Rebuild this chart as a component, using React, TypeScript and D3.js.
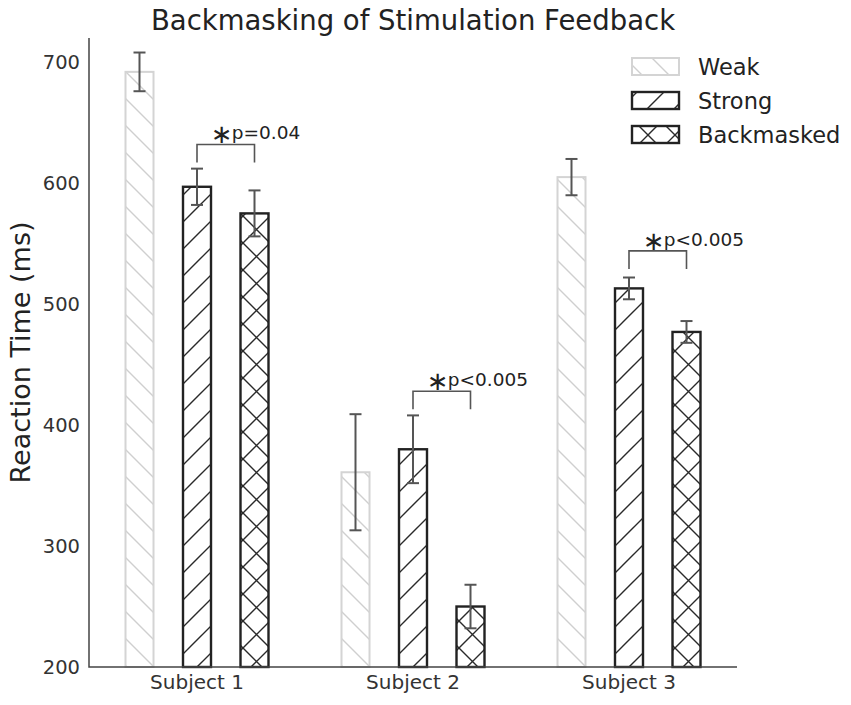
import React, { useEffect, useRef } from 'react';
import * as d3 from 'd3';

const subjects: string[] = ['Subject 1', 'Subject 2', 'Subject 3'];
const conditions: string[] = ['Weak', 'Strong', 'Backmasked'];
const weakMeans: number[] = [692, 361, 605];
const weakErr: number[] = [16, 48, 15];
const strongMeans: number[] = [597, 380, 513];
const strongErr: number[] = [15, 28, 9];
const backMeans: number[] = [575, 250, 477];
const backErr: number[] = [19, 18, 9];
const sigLabels: string[] = ['p=0.04', 'p<0.005', 'p<0.005'];
const sigTops: number[] = [632, 428, 544];
const yTicks: number[] = [200, 300, 400, 500, 600, 700];

const W = 851;
const H = 705;
const FONT = 'DejaVu Sans, sans-serif';

const App: React.FC = () => {
  const ref = useRef<SVGSVGElement | null>(null);

  useEffect(() => {
    if (!ref.current) return;
    const svg = d3.select(ref.current);
    svg.selectAll('*').remove();

    const left = 89;
    const right = 737;
    const top = 38;
    const bottom = 667;

    // hatch patterns
    const defs = svg.append('defs');
    const p = 27;
    const back = 'M0,0 L27,27 M-7,20 L7,34 M20,-7 L34,7';
    const fwd = 'M0,27 L27,0 M-7,7 L7,-7 M20,34 L34,20';
    const hatches = [
      { id: 'h-weak', d: back, stroke: '#cfcfcf' },
      { id: 'h-strong', d: fwd, stroke: '#2a2a2a' },
      { id: 'h-back', d: back + ' ' + fwd, stroke: '#2a2a2a' },
    ];
    hatches.forEach((h) => {
      const pat = defs
        .append('pattern')
        .attr('id', h.id)
        .attr('patternUnits', 'userSpaceOnUse')
        .attr('width', p)
        .attr('height', p);
      pat.append('rect').attr('width', p).attr('height', p).attr('fill', '#fff');
      pat
        .append('path')
        .attr('d', h.d)
        .attr('stroke', h.stroke)
        .attr('stroke-width', 1.4)
        .attr('fill', 'none');
    });
    const edges = ['#d4d4d4', '#222', '#222'];

    const x = d3.scaleBand<string>().domain(subjects).range([left, right]);
    const off = d3.scalePoint<string>().domain(conditions).range([-57.5, 57.5]);
    const y = d3.scaleLinear().domain([200, 720]).range([bottom, top]);
    const barW = 28;

    // title
    svg
      .append('text')
      .attr('x', (left + right) / 2)
      .attr('y', 30)
      .attr('text-anchor', 'middle')
      .attr('font-family', FONT)
      .attr('font-size', 27.5)
      .attr('fill', '#222')
      .text('Backmasking of Stimulation Feedback');

    // y label
    svg
      .append('text')
      .attr('transform', `translate(30,${(top + bottom) / 2}) rotate(-90)`)
      .attr('text-anchor', 'middle')
      .attr('font-family', FONT)
      .attr('font-size', 27)
      .attr('fill', '#222')
      .text('Reaction Time (ms)');

    // y tick labels
    svg
      .selectAll('.ytick')
      .data(yTicks)
      .enter()
      .append('text')
      .attr('x', 80)
      .attr('y', (d) => y(d))
      .attr('dy', '0.36em')
      .attr('text-anchor', 'end')
      .attr('font-family', FONT)
      .attr('font-size', 19.5)
      .attr('fill', '#333')
      .text((d) => d);

    // x tick labels
    svg
      .selectAll('.xtick')
      .data(subjects)
      .enter()
      .append('text')
      .attr('x', (d) => (x(d) || 0) + x.bandwidth() / 2)
      .attr('y', 689)
      .attr('text-anchor', 'middle')
      .attr('font-family', FONT)
      .attr('font-size', 20)
      .attr('fill', '#333')
      .text((d) => d);

    const series = [
      { means: weakMeans, errs: weakErr },
      { means: strongMeans, errs: strongErr },
      { means: backMeans, errs: backErr },
    ];

    const cx = (si: number, ci: number) =>
      (x(subjects[si]) || 0) + x.bandwidth() / 2 + (off(conditions[ci]) || 0);

    series.forEach((s, ci) => {
      const g = svg.append('g');
      g.selectAll('rect')
        .data(s.means)
        .enter()
        .append('rect')
        .attr('x', (_, i) => cx(i, ci) - barW / 2)
        .attr('y', (d) => y(d))
        .attr('width', barW)
        .attr('height', (d) => bottom - y(d))
        .attr('fill', `url(#${hatches[ci].id})`)
        .attr('stroke', edges[ci])
        .attr('stroke-width', ci === 0 ? 2 : 2.4);

      // error bars
      const eb = svg.append('g').attr('stroke', '#555').attr('stroke-width', 2).attr('fill', 'none');
      s.means.forEach((m, i) => {
        const c = cx(i, ci);
        const hi = y(m + s.errs[i]);
        const lo = y(m - s.errs[i]);
        eb.append('line').attr('x1', c).attr('x2', c).attr('y1', hi).attr('y2', lo);
        eb.append('line').attr('x1', c - 6).attr('x2', c + 6).attr('y1', hi).attr('y2', hi);
        eb.append('line').attr('x1', c - 6).attr('x2', c + 6).attr('y1', lo).attr('y2', lo);
      });
    });

    // significance brackets
    sigTops.forEach((v, i) => {
      const x1 = cx(i, 1);
      const x2 = cx(i, 2);
      const yt = y(v);
      const yb = y(v - 15);
      svg
        .append('path')
        .attr('d', `M${x1},${yb} L${x1},${yt} L${x2},${yt} L${x2},${yb}`)
        .attr('fill', 'none')
        .attr('stroke', '#555')
        .attr('stroke-width', 1.6);
      const mid = (x1 + x2) / 2;
      svg
        .append('text')
        .attr('x', mid - 4)
        .attr('y', yt - 1)
        .attr('text-anchor', 'middle')
        .attr('font-family', FONT)
        .attr('font-size', 26)
        .attr('fill', '#222')
        .text('\u2217');
      svg
        .append('text')
        .attr('x', mid + 6)
        .attr('y', yt - 5)
        .attr('font-family', FONT)
        .attr('font-size', 18.5)
        .attr('fill', '#222')
        .text(sigLabels[i]);
    });

    // spines
    svg
      .append('path')
      .attr('d', `M${left},${top} L${left},${bottom} L${right},${bottom}`)
      .attr('fill', 'none')
      .attr('stroke', '#444')
      .attr('stroke-width', 1.5);

    // legend
    const lg = svg.append('g');
    conditions.forEach((c, i) => {
      const ly = 58 + i * 34;
      lg.append('rect')
        .attr('x', 632)
        .attr('y', ly)
        .attr('width', 47)
        .attr('height', 17)
        .attr('fill', `url(#${hatches[i].id})`)
        .attr('stroke', edges[i])
        .attr('stroke-width', i === 0 ? 2 : 2.4);
      lg.append('text')
        .attr('x', 698)
        .attr('y', ly + 17)
        .attr('font-family', FONT)
        .attr('font-size', 22.5)
        .attr('fill', '#222')
        .text(c);
    });
  }, []);

  return (
    <svg
      ref={ref}
      width={W}
      height={H}
      style={{ position: 'absolute', left: 0, top: 0, background: '#fff' }}
    ></svg>
  );
};

export default App;
